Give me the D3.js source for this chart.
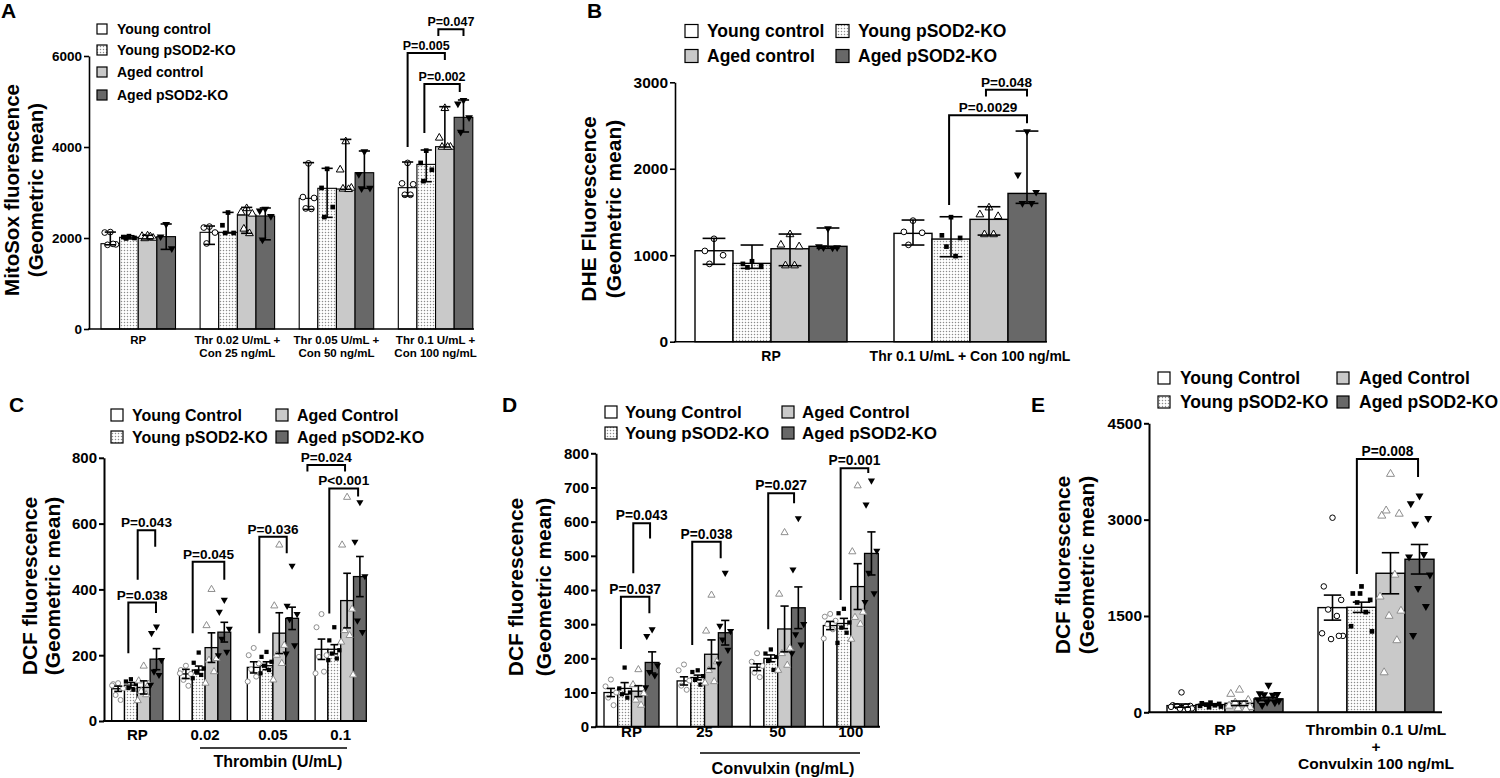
<!DOCTYPE html>
<html>
<head>
<meta charset="utf-8">
<script src="https://cdn.jsdelivr.net/npm/d3@7"></script>
<style>
  body { margin: 0; background: #fff; }
  svg text { font-family: "Liberation Sans", Arial, sans-serif; font-weight: bold; fill: #000; }
</style>
</head>
<body>
<svg id="fig" width="1500" height="778"></svg>
<script>
// ---------- data ----------
const legendLower = ["Young control", "Young pSOD2-KO", "Aged control", "Aged pSOD2-KO"];
const legendUpper = ["Young Control", "Young pSOD2-KO", "Aged Control", "Aged pSOD2-KO"];

// A: MitoSox, bar = median, whiskers = range
const aGroups = [["RP"], ["Thr 0.02 U/mL +", "Con 25 ng/mL"], ["Thr 0.05 U/mL +", "Con 50 ng/mL"], ["Thr 0.1 U/mL +", "Con 100 ng/mL"]];
const aTicks = [0, 2000, 4000, 6000];
const aMeans = [[1875, 2015, 2015, 2030], [2125, 2125, 2505, 2484], [2872, 3092, 3077, 3435], [3106, 3618, 4007, 4652]];
const aHigh = [[2130, 2050, 2060, 2308], [2263, 2563, 2673, 2660], [3656, 3531, 4168, 3912], [3670, 3934, 4886, 5033]];
const aLow = [[1850, 1980, 1980, 1750], [1860, 2110, 2103, 1960], [2630, 2454, 3070, 3092], [2923, 3238, 4000, 4330]];
const aPoints = [
  [[2130, 2120, 1860, 1850, 1870], [2040, 2020, 2000, 1990], [2050, 2040, 2000, 1990, 2030], [2300, 2030, 1770]],
  [[2250, 2230, 2120, 1880], [2560, 2280, 2110, 2110], [2650, 2560, 2530, 2200, 2100], [2640, 2600, 2480, 1960]],
  [[3640, 2900, 2880, 2650, 2640], [3520, 3100, 2680, 2460], [4120, 3500, 3100, 3080, 3070], [3900, 3400, 3100, 3090]],
  [[3650, 3200, 3180, 2950, 2950], [3920, 3650, 3500, 3250], [4850, 4200, 4000, 4000, 4000], [5030, 4950, 4650, 4330]]
];
const aBrackets = [
  { g: 3, i1: 1.65, i2: 3, top: 6590, y1: 6440, y2: 6440, p: "P=0.047" },
  { g: 3, i1: 0, i2: 2, top: 6066, y1: 4000, y2: 5912, p: "P=0.005" },
  { g: 3, i1: 0.9, i2: 2.8, top: 5385, y1: 4308, y2: 5209, p: "P=0.002" }
];

// B: DHE
const bGroups = [["RP"], ["Thr 0.1 U/mL + Con 100 ng/mL"]];
const bTicks = [0, 1000, 2000, 3000];
const bMeans = [[1052, 906, 1075, 1103], [1253, 1187, 1415, 1715]];
const bHigh = [[1195, 1118, 1245, 1315], [1407, 1445, 1561, 2436]];
const bLow = [[895, 848, 879, 1080], [1118, 983, 1233, 1600]];
const bPoints = [
  [[1190, 1050, 1000, 900], [930, 900, 880, 860], [1240, 1120, 1100, 880, 880], [1310, 1100, 1090, 1090, 1085]],
  [[1400, 1270, 1260, 1120], [1440, 1230, 1200, 1100, 990], [1550, 1470, 1450, 1240, 1240], [2430, 1930, 1730, 1600, 1600]]
];
const bBrackets = [
  { g: 1, i1: 1.92, i2: 3, top: 2915, y1: 2835, y2: 2835, p: "P=0.048" },
  { g: 1, i1: 0.95, i2: 3, top: 2620, y1: 1580, y2: 2527, p: "P=0.0029" }
];

// C: DCF, thrombin (mean ± SEM)
const cGroups = [["RP"], ["0.02"], ["0.05"], ["0.1"]];
const cTicks = [0, 200, 400, 600, 800];
const cMeans = [[98, 109, 102, 188], [143, 155, 223, 270], [163, 168, 267, 312], [218, 218, 366, 439]];
const cSem = [[8, 8, 20, 32], [14, 12, 45, 30], [17, 12, 62, 34], [31, 14, 83, 61]];
const cPoints = [
  [[115, 112, 99, 79, 64, 108], [127, 120, 112, 100, 95], [167, 122, 112, 90, 80, 62], [287, 267, 185, 150, 140, 110]],
  [[168, 155, 143, 125, 107, 145], [208, 177, 160, 150, 140, 130], [400, 290, 190, 185, 150, 115], [368, 332, 280, 250, 210, 200]],
  [[222, 200, 175, 157, 135, 120], [210, 195, 180, 168, 155, 145], [535, 350, 230, 200, 175, 125], [472, 350, 325, 310, 230, 205]],
  [[325, 285, 200, 195, 150, 145], [285, 245, 215, 205, 190, 185], [680, 535, 340, 275, 260, 240, 140], [665, 545, 440, 305, 270]]
];
const cBrackets = [
  { g: 0, i1: 1.53, i2: 2.9, top: 580, y1: 429, y2: 530, p: "P=0.043" },
  { g: 0, i1: 0.8, i2: 2.96, top: 360, y1: 206, y2: 328, p: "P=0.038" },
  { g: 1, i1: 0.53, i2: 3, top: 484, y1: 267, y2: 429, p: "P=0.045" },
  { g: 2, i1: 0.44, i2: 2.58, top: 560, y1: 267, y2: 510, p: "P=0.036" },
  { g: 3, i1: -1.1, i2: 1.84, top: 778, y1: 758, y2: 758, p: "P=0.024" },
  { g: 3, i1: 0.61, i2: 2.86, top: 707, y1: 327, y2: 682, p: "P<0.001" }
];

// D: DCF, convulxin (mean ± SEM)
const dGroups = [["RP"], ["25"], ["50"], ["100"]];
const dTicks = [0, 100, 200, 300, 400, 500, 600, 700, 800];
const dMeans = [[100, 112, 104, 188], [134, 144, 212, 275], [174, 200, 286, 348], [296, 302, 410, 507]];
const dSem = [[12, 17, 16, 31], [12, 7, 42, 36], [10, 10, 67, 61], [12, 15, 67, 63]];
const dPoints = [
  [[138, 118, 100, 85, 63], [173, 112, 100, 95, 85], [167, 123, 97, 78, 63], [285, 265, 180, 160, 150, 115]],
  [[182, 165, 135, 120, 108], [165, 160, 148, 137, 123], [385, 280, 190, 165, 132, 128], [450, 295, 280, 255, 225, 185]],
  [[215, 190, 178, 158, 145], [226, 214, 204, 192, 166], [568, 388, 230, 214, 180, 165], [610, 460, 300, 270, 240, 215]],
  [[330, 322, 310, 300, 285, 258], [345, 332, 305, 290, 275, 245], [705, 512, 335, 320, 300, 256], [720, 650, 515, 450, 390, 365]]
];
const dBrackets = [
  { g: 0, i1: 1.63, i2: 2.85, top: 595, y1: 449, y2: 551, p: "P=0.043" },
  { g: 0, i1: 0.73, i2: 2.8, top: 380, y1: 227, y2: 332, p: "P=0.037" },
  { g: 1, i1: 0.6, i2: 2.67, top: 541, y1: 239, y2: 493, p: "P=0.038" },
  { g: 2, i1: 0.81, i2: 2.69, top: 683, y1: 285, y2: 654, p: "P=0.027" },
  { g: 3, i1: 0.76, i2: 2.77, top: 756, y1: 371, y2: 742, p: "P=0.001" }
];

// E: DCF, thrombin + convulxin (mean ± SEM)
const eGroups = [["RP"], ["Thrombin 0.1 U/mL", "+", "Convulxin 100 ng/mL"]];
const eTicks = [0, 1500, 3000, 4500];
const eMeans = [[104, 120, 140, 209], [1630, 1635, 2165, 2383]];
const eSem = [[25, 10, 35, 25], [195, 80, 320, 230]];
const ePoints = [
  [[310, 110, 100, 95, 90, 85, 60, 55, 50], [150, 140, 130, 120, 110, 100, 90, 80], [350, 285, 190, 150, 120, 100, 80, 60, 50], [425, 290, 280, 275, 270, 200, 180, 160, 150, 110]],
  [[3030, 1960, 1750, 1600, 1500, 1230, 1190, 1140, 1190], [1960, 1850, 1750, 1710, 1560, 1340, 1260, 1850], [3710, 3060, 3090, 3140, 2140, 1800, 1580, 1500, 1120, 620], [3370, 3250, 3020, 2930, 2460, 2420, 2140, 1930, 1650, 1200]]
];
const eBrackets = [
  { g: 1, i1: 0.84, i2: 2.95, top: 3946, y1: 2154, y2: 3665, p: "P=0.008" }
];

// ---------- drawing ----------
const svg = d3.select("#fig");
svg.append("rect").attr("width", 1500).attr("height", 778).attr("fill", "#fff");

const defs = svg.append("defs");
const pat = defs.append("pattern").attr("id", "dots")
  .attr("patternUnits", "userSpaceOnUse").attr("width", 3).attr("height", 3);
pat.append("rect").attr("width", 3).attr("height", 3).attr("fill", "#fff");
pat.append("circle").attr("cx", 1.5).attr("cy", 1.5).attr("r", 0.75).attr("fill", "#8c8c8c");

const FILLS = ["#ffffff", "url(#dots)", "#c9c9c9", "#686868"];
const SYMS = [d3.symbolCircle, d3.symbolSquare, d3.symbolTriangle, d3.symbolTriangle];
const JIT = [0, -0.3, 0.3, -0.15, 0.15, -0.36, 0.36, -0.05, 0.22, -0.22];

function drawLegend(opt) {
  const g = svg.append("g");
  opt.labels.forEach((lab, i) => {
    const [lx, ly] = opt.pos[i];
    g.append("rect").attr("x", lx).attr("y", ly - opt.box / 2)
      .attr("width", opt.box).attr("height", opt.box)
      .attr("fill", FILLS[i]).attr("stroke", "#000").attr("stroke-width", 1.2);
    g.append("text").attr("x", lx + opt.gap).attr("y", ly)
      .attr("dy", "0.36em").attr("font-size", opt.font).text(lab);
  });
}

function drawPanel(p) {
  const g = svg.append("g");
  const y = d3.scaleLinear().domain([0, p.yMax]).range([p.yBase, p.yTop]);
  const n = p.means.length;
  const pi = 1 - p.groupWidth / p.step, po = pi / 2;
  const r0 = p.groupStart - po * p.step;
  const x = d3.scaleBand().domain(d3.range(n)).range([r0, r0 + n * p.step])
    .paddingInner(pi).paddingOuter(po);
  const xs = d3.scaleBand().domain(d3.range(4)).range([0, x.bandwidth()]);
  const bw = xs.bandwidth();
  const cx = (gi, si) => x(gi) + bw * (si + 0.5);

  const bars = p.means.flatMap((row, gi) => row.map((v, si) => {
    const lo = p.low ? p.low[gi][si] : v - p.sem[gi][si];
    const hi = p.high ? p.high[gi][si] : v + p.sem[gi][si];
    return { gi, si, v, lo, hi };
  }));

  g.selectAll("rect.bar").data(bars).join("rect").attr("class", "bar")
    .attr("x", d => x(d.gi) + xs(d.si)).attr("y", d => y(d.v))
    .attr("width", bw).attr("height", d => y(0) - y(d.v))
    .attr("fill", d => FILLS[d.si]).attr("stroke", "#000").attr("stroke-width", p.barStroke);

  const pts = p.points.flatMap((row, gi) => row.flatMap((vals, si) =>
    vals.map((v, j) => ({ gi, si, v, j }))));
  g.selectAll("path.pt").data(pts).join("path").attr("class", "pt")
    .attr("d", d => d3.symbol().type(SYMS[d.si]).size(p.symSize[d.si])())
    .attr("transform", d => {
      const px = cx(d.gi, d.si) + JIT[d.j % JIT.length] * bw * p.jitter;
      return "translate(" + px + "," + y(d.v) + ")" + (d.si === 3 ? " rotate(180)" : "");
    })
    .attr("fill", d => (d.si === 1 || d.si === 3) ? "#000" : "#fff")
    .attr("stroke", d => d.si === 0 ? p.circleStroke : d.si === 2 ? p.triStroke : "none")
    .attr("stroke-width", 1);

  const cap = bw * 0.3;
  const eb = g.selectAll("g.eb").data(bars).join("g").attr("class", "eb")
    .attr("stroke", "#000").attr("stroke-width", 1.6);
  eb.append("line").attr("x1", d => cx(d.gi, d.si)).attr("x2", d => cx(d.gi, d.si))
    .attr("y1", d => y(d.lo)).attr("y2", d => y(d.hi));
  eb.append("line").attr("x1", d => cx(d.gi, d.si) - cap).attr("x2", d => cx(d.gi, d.si) + cap)
    .attr("y1", d => y(d.hi)).attr("y2", d => y(d.hi));
  eb.append("line").attr("x1", d => cx(d.gi, d.si) - cap).attr("x2", d => cx(d.gi, d.si) + cap)
    .attr("y1", d => y(d.lo)).attr("y2", d => y(d.lo));

  // axes
  const ax = g.append("g").attr("transform", "translate(" + p.x0 + ",0)")
    .call(d3.axisLeft(y).tickValues(p.ticks).tickFormat(d3.format("d"))
      .tickSize(5).tickSizeOuter(0).tickPadding(2));
  ax.select(".domain").attr("stroke-width", p.axisWidth);
  ax.selectAll(".tick line").attr("stroke-width", p.axisWidth);
  ax.selectAll("text").attr("font-size", p.tickFont).attr("font-family", "Liberation Sans, Arial, sans-serif")
    .attr("font-weight", "bold");
  g.append("line").attr("x1", p.x0 - 1).attr("x2", p.xEnd).attr("y1", p.yBase).attr("y2", p.yBase)
    .attr("stroke", "#000").attr("stroke-width", p.axisWidth);

  // group labels
  p.groups.forEach((lines, gi) => {
    lines.forEach((t, li) => {
      g.append("text").attr("x", x(gi) + x.bandwidth() / 2).attr("y", p.labY + li * p.labStep)
        .attr("text-anchor", "middle").attr("font-size", p.labFont).text(t);
    });
  });

  // y title
  p.yTitle.forEach((t, li) => {
    g.append("text").attr("transform", "translate(" + p.yTitleX[li] + "," + p.yTitleY + ") rotate(-90)")
      .attr("text-anchor", "middle").attr("font-size", p.yTitleFont).text(t);
  });

  // significance brackets
  p.brackets.forEach(b => {
    const xl = cx(b.g, b.i1), xr = cx(b.g, b.i2);
    g.append("path")
      .attr("d", "M" + xl + "," + y(b.y1) + "V" + y(b.top) + "H" + xr + "V" + y(b.y2))
      .attr("fill", "none").attr("stroke", "#000").attr("stroke-width", 2);
    g.append("text").attr("x", (xl + xr) / 2).attr("y", y(b.top) - 3)
      .attr("text-anchor", "middle").attr("font-size", p.pFont).text(b.p);
  });

  // panel letter
  g.append("text").attr("x", p.letterPos[0]).attr("y", p.letterPos[1])
    .attr("font-size", 21).text(p.letter);
  return { x, y };
}

// A
drawPanel({
  letter: "A", letterPos: [1, 18],
  means: aMeans, low: aLow, high: aHigh, points: aPoints, brackets: aBrackets, groups: aGroups,
  yMax: 6000, ticks: aTicks, yBase: 329, yTop: 56, x0: 89, xEnd: 474,
  groupStart: 101, step: 99.1, groupWidth: 74.5,
  barStroke: 1.1, axisWidth: 1.6, tickFont: 13.5, labFont: 11.5, labY: 344, labStep: 12.8,
  pFont: 12.5, symSize: [26, 22, 26, 26], jitter: 1, circleStroke: "#000", triStroke: "#000",
  yTitle: ["MitoSox fluorescence", "(Geometric mean)"], yTitleX: [18.5, 42.5], yTitleY: 190, yTitleFont: 20.5
});
drawLegend({ labels: legendLower, box: 10, gap: 20, font: 14,
  pos: [[97, 29], [97, 50], [97, 72], [97, 95]] });

// B
drawPanel({
  letter: "B", letterPos: [587, 18],
  means: bMeans, low: bLow, high: bHigh, points: bPoints, brackets: bBrackets, groups: bGroups,
  yMax: 3000, ticks: bTicks, yBase: 341.7, yTop: 82.3, x0: 675, xEnd: 1047,
  groupStart: 695, step: 199, groupWidth: 152,
  barStroke: 1.4, axisWidth: 1.6, tickFont: 15.5, labFont: 14, labY: 361, labStep: 14,
  pFont: 13.6, symSize: [26, 22, 26, 26], jitter: 0.8, circleStroke: "#000", triStroke: "#000",
  yTitle: ["DHE Fluorescence", "(Geometric mean)"], yTitleX: [595.7, 621], yTitleY: 209, yTitleFont: 21
});
drawLegend({ labels: legendLower, box: 13, gap: 22, font: 17.5,
  pos: [[685, 31], [836, 31], [685, 56], [836, 56]] });

// C
drawPanel({
  letter: "C", letterPos: [9, 412],
  means: cMeans, sem: cSem, points: cPoints, brackets: cBrackets, groups: cGroups,
  yMax: 800, ticks: cTicks, yBase: 721, yTop: 457.8, x0: 104, xEnd: 367,
  groupStart: 111.7, step: 67.8, groupWidth: 51.2,
  barStroke: 1.3, axisWidth: 2, tickFont: 15, labFont: 15, labY: 740, labStep: 15,
  pFont: 13.6, symSize: [20, 18, 22, 22], jitter: 1.3, circleStroke: "#8e8e8e", triStroke: "#8e8e8e",
  yTitle: ["DCF fluorescence", "(Geometric mean)"], yTitleX: [36.7, 59.5], yTitleY: 586, yTitleFont: 21
});
svg.append("line").attr("x1", 200).attr("x2", 347).attr("y1", 748).attr("y2", 748)
  .attr("stroke", "#000").attr("stroke-width", 1.6);
svg.append("text").attr("x", 278).attr("y", 767).attr("text-anchor", "middle")
  .attr("font-size", 16).text("Thrombin (U/mL)");
drawLegend({ labels: legendUpper, box: 12, gap: 21, font: 16,
  pos: [[111, 415], [111, 437], [276, 415], [276, 437]] });

// D
drawPanel({
  letter: "D", letterPos: [502, 412],
  means: dMeans, sem: dSem, points: dPoints, brackets: dBrackets, groups: dGroups,
  yMax: 800, ticks: dTicks, yBase: 726.7, yTop: 453.3, x0: 596, xEnd: 880,
  groupStart: 604, step: 73.1, groupWidth: 55,
  barStroke: 1.3, axisWidth: 2, tickFont: 15, labFont: 15, labY: 737, labStep: 15,
  pFont: 13.8, symSize: [20, 18, 22, 22], jitter: 1.3, circleStroke: "#8e8e8e", triStroke: "#8e8e8e",
  yTitle: ["DCF fluorescence", "(Geometric mean)"], yTitleX: [523, 551], yTitleY: 587, yTitleFont: 21
});
svg.append("line").attr("x1", 700).attr("x2", 860).attr("y1", 753).attr("y2", 753)
  .attr("stroke", "#000").attr("stroke-width", 1.6);
svg.append("text").attr("x", 783).attr("y", 774).attr("text-anchor", "middle")
  .attr("font-size", 16.3).text("Convulxin (ng/mL)");
drawLegend({ labels: legendUpper, box: 12, gap: 20, font: 17,
  pos: [[605, 412], [605, 433], [782, 412], [782, 433]] });

// E
drawPanel({
  letter: "E", letterPos: [1031, 412],
  means: eMeans, sem: eSem, points: ePoints, brackets: eBrackets, groups: eGroups,
  yMax: 4500, ticks: eTicks, yBase: 712.3, yTop: 423.3, x0: 1149, xEnd: 1442,
  groupStart: 1167, step: 151, groupWidth: 116,
  barStroke: 1.4, axisWidth: 2, tickFont: 15.5, labFont: 15.5, labY: 735, labStep: 17,
  pFont: 13.8, symSize: [24, 22, 28, 28], jitter: 1, circleStroke: "#000", triStroke: "#8e8e8e",
  yTitle: ["DCF fluorescence", "(Geometric mean)"], yTitleX: [1070, 1094], yTitleY: 565, yTitleFont: 21
});
drawLegend({ labels: legendUpper, box: 12, gap: 22, font: 17.5,
  pos: [[1158, 378], [1158, 402], [1337, 378], [1337, 402]] });
</script>
</body>
</html>
